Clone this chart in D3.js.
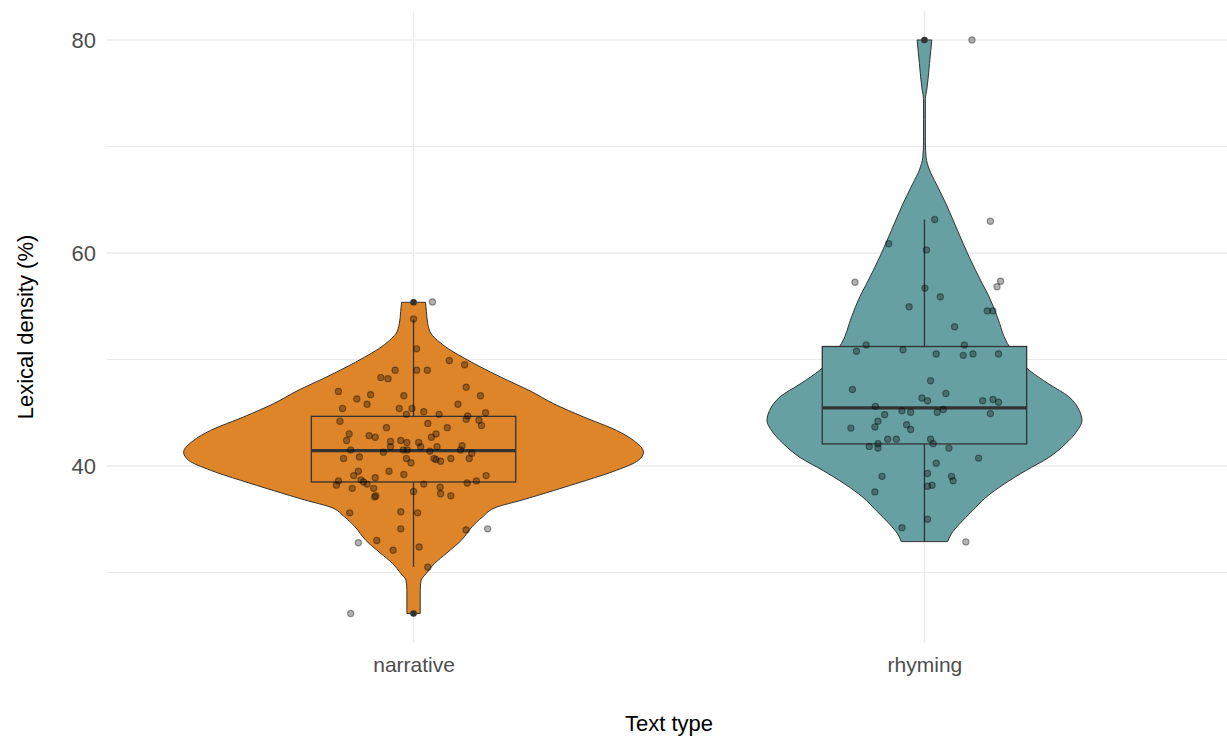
<!DOCTYPE html>
<html>
<head>
<meta charset="utf-8">
<script src="https://cdn.jsdelivr.net/npm/d3@7"></script>
<style>
  html, body { margin: 0; padding: 0; background: #ffffff; }
  svg { display: block; font-family: "Liberation Sans", Arial, sans-serif; }
</style>
</head>
<body>
<svg id="chart" width="1227" height="738"></svg>
<script>
// ---------------- data ----------------
const categories = ["narrative", "rhyming"];
const fillColors = ["#DD8528", "#66A0A2"];

// jittered observations (value, horizontal jitter in category units)
const narrativeValues = [55.4, 53.8, 51.0, 49.9, 49.5, 49.0, 49.0, 49.0, 48.3, 48.2, 47.4, 47.0, 46.6, 46.7, 46.3, 46.6,
  45.8, 45.8, 45.4, 45.4, 45.4, 45.1, 44.85, 44.85, 44.7, 45.0, 44.4, 44.3, 44.2, 44.0, 43.8, 43.6, 43.6, 43.0, 42.85,
  42.7, 43.0, 42.7, 42.4, 42.4, 42.3, 42.2, 42.2, 41.8, 41.8, 41.8, 41.9, 41.5, 41.3, 41.5, 41.5, 41.4, 41.5, 41.2,
  40.7, 40.85, 40.7, 40.3, 40.7, 40.45, 40.7, 40.7, 39.5, 39.5, 39.2, 39.1, 38.7, 38.9, 39.1, 38.6, 38.2, 38.3, 38.5,
  38.3, 38.4, 38.6, 37.9, 37.9, 38.0, 37.6, 37.2, 37.1, 37.4, 37.2, 35.6, 35.7, 35.6, 34.1, 34.0, 34.1, 32.8, 33.0,
  32.1, 32.4, 30.5, 26.15, 40.6];
const narrativeJitter = [0.037, 0.000, 0.006, 0.070, 0.100, 0.006, 0.027, -0.036, -0.064, -0.050, 0.103, -0.147, 0.131,
  -0.084, -0.111, -0.019, -0.091, 0.087, -0.139, -0.028, -0.003, 0.020, -0.014, 0.050, 0.106, 0.141, 0.103, 0.128,
  -0.144, 0.028, 0.133, -0.053, 0.066, -0.126, -0.087, -0.075, 0.044, 0.035, -0.131, -0.025, -0.045, -0.013, 0.010,
  -0.045, 0.014, 0.046, 0.095, -0.123, -0.059, -0.020, -0.012, 0.032, 0.092, 0.114, -0.137, -0.106, -0.014, -0.005,
  0.040, 0.053, 0.073, 0.109, -0.048, -0.108, -0.019, -0.117, -0.103, -0.075, 0.142, -0.147, -0.151, -0.091, -0.098,
  0.020, 0.105, 0.123, -0.120, -0.078, 0.052, 0.000, -0.074, -0.076, 0.053, 0.073, -0.125, -0.025, 0.008, -0.025,
  0.103, 0.145, -0.108, -0.072, -0.040, 0.011, 0.028, -0.123, 0.044];

const rhymingValues = [80.0, 62.98, 63.14, 60.29, 60.87, 57.25, 57.35, 56.83, 56.7, 55.89, 54.95, 54.56, 54.56, 53.07,
  51.36, 51.36, 50.78, 50.91, 50.52, 50.39, 50.52, 50.52, 48.0, 47.18, 46.8, 46.38, 46.12, 46.12, 46.25, 45.99, 45.6,
  45.18, 45.05, 45.05, 45.31, 44.82, 44.92, 44.21, 43.88, 43.66, 43.56, 43.43, 42.52, 42.52, 42.52, 42.1, 42.1, 41.84,
  41.68, 41.68, 40.74, 40.26, 39.29, 39.03, 39.03, 38.61, 38.19, 38.1, 37.57, 35.0, 34.21, 32.88];
const rhymingJitter = [0.093, 0.129, 0.020, 0.004, -0.070, -0.136, 0.149, 0.142, 0.001, 0.031, -0.030, 0.123, 0.134,
  0.059, -0.114, 0.078, -0.133, -0.042, 0.023, 0.076, 0.095, 0.145, 0.012, -0.141, 0.042, -0.005, 0.006, 0.114, 0.134,
  0.145, -0.096, -0.044, -0.027, 0.025, 0.037, -0.078, 0.129, -0.091, -0.035, -0.097, -0.144, -0.027, -0.072, -0.055,
  0.012, 0.017, -0.091, -0.108, -0.091, 0.048, 0.106, 0.023, 0.006, -0.083, 0.053, 0.056, 0.015, 0.006, -0.097, 0.006,
  -0.044, 0.081];

// boxplot statistics per category
const boxQ1 = [38.5, 42.07];
const boxMedian = [41.45, 45.45];
const boxQ3 = [44.66, 51.22];
const whiskerLow = [30.53, 32.9];
const whiskerHigh = [53.75, 63.13];
const narrativeOutliers = [55.37, 26.15];
const rhymingOutliers = [80.0];

// violin density profiles (value, relative width; 1 = widest violin)
const narrativeViolinV = [26.15, 28.34, 29.28, 29.9, 30.84, 31.8, 33.03, 34.3, 35.2, 36.16, 36.78, 37.7, 38.66, 39.6,
  40.53, 41.3, 42.4, 43.34, 44.6, 45.84, 47.1, 48.34, 49.28, 50.22, 51.0, 51.78, 52.4, 53.34, 54.5, 55.37];
const narrativeViolinW = [0.029, 0.029, 0.033, 0.055, 0.091, 0.143, 0.208, 0.255, 0.299, 0.364, 0.468, 0.610, 0.753,
  0.883, 0.978, 1.0, 0.957, 0.883, 0.740, 0.610, 0.502, 0.380, 0.293, 0.213, 0.152, 0.105, 0.077, 0.062, 0.056, 0.052];

const rhymingViolinV = [32.9, 33.6, 34.55, 35.8, 37.05, 38.3, 39.56, 40.8, 42.07, 43.3, 44.26, 45.2, 46.5, 47.7, 49.0,
  51.5, 54.0, 55.9, 57.1, 59.6, 62.1, 64.6, 66.5, 67.8, 69.0, 70.5, 72.5, 74.5, 75.3, 77.8, 80.0];
const rhymingViolinW = [0.101, 0.116, 0.152, 0.209, 0.267, 0.346, 0.440, 0.541, 0.613, 0.664, 0.685, 0.674, 0.628,
  0.541, 0.455, 0.361, 0.317, 0.281, 0.252, 0.195, 0.144, 0.094, 0.051, 0.022, 0.007, 0.004, 0.004, 0.004, 0.010,
  0.022, 0.032];

const yMajorTicks = [40, 60, 80];
const yMinorTicks = [30, 50, 70];
const xTitle = "Text type";
const yTitle = "Lexical density (%)";

// ---------------- layout ----------------
const svg = d3.select("#chart");
const panel = { left: 107, right: 1231, top: 11.2, bottom: 642.8 };

const x = d3.scalePoint().domain(categories).range([panel.left, panel.right]).padding(0.6);
const step = x.step();
const y = d3.scaleLinear().domain([23.4, 82.7]).range([panel.bottom, panel.top]);

const gridColor = "#EBEBEB";
const lineColor = "#333333";

// grid
const grid = svg.append("g");
grid.selectAll("line.minor").data(yMinorTicks).join("line")
  .attr("x1", panel.left).attr("x2", panel.right)
  .attr("y1", d => y(d)).attr("y2", d => y(d))
  .attr("stroke", gridColor).attr("stroke-width", 1.1);
grid.selectAll("line.major").data(yMajorTicks).join("line")
  .attr("x1", panel.left).attr("x2", panel.right)
  .attr("y1", d => y(d)).attr("y2", d => y(d))
  .attr("stroke", gridColor).attr("stroke-width", 1.4);
grid.selectAll("line.vert").data(categories).join("line")
  .attr("x1", d => x(d)).attr("x2", d => x(d))
  .attr("y1", panel.top).attr("y2", panel.bottom)
  .attr("stroke", gridColor).attr("stroke-width", 1.4);

// violins
const violinHalf = 0.45 * step;
const profiles = [
  narrativeViolinV.map((v, i) => ({ v, w: narrativeViolinW[i] })),
  rhymingViolinV.map((v, i) => ({ v, w: rhymingViolinW[i] }))
];
categories.forEach((c, i) => {
  const cx = x(c);
  const area = d3.area()
    .y(d => y(d.v))
    .x0(d => cx - d.w * violinHalf)
    .x1(d => cx + d.w * violinHalf)
    .curve(d3.curveMonotoneY);
  svg.append("path")
    .attr("d", area(profiles[i]))
    .attr("fill", fillColors[i])
    .attr("stroke", lineColor)
    .attr("stroke-width", 1);
});

// boxplots
const boxHalf = 0.2 * step;
categories.forEach((c, i) => {
  const cx = x(c);
  const g = svg.append("g");
  g.append("line").attr("x1", cx).attr("x2", cx)
    .attr("y1", y(boxQ3[i])).attr("y2", y(whiskerHigh[i]))
    .attr("stroke", lineColor).attr("stroke-width", 1.3);
  g.append("line").attr("x1", cx).attr("x2", cx)
    .attr("y1", y(boxQ1[i])).attr("y2", y(whiskerLow[i]))
    .attr("stroke", lineColor).attr("stroke-width", 1.3);
  g.append("rect")
    .attr("x", cx - boxHalf).attr("width", 2 * boxHalf)
    .attr("y", y(boxQ3[i])).attr("height", y(boxQ1[i]) - y(boxQ3[i]))
    .attr("fill", fillColors[i]).attr("stroke", lineColor).attr("stroke-width", 1.3);
  g.append("line")
    .attr("x1", cx - boxHalf).attr("x2", cx + boxHalf)
    .attr("y1", y(boxMedian[i])).attr("y2", y(boxMedian[i]))
    .attr("stroke", lineColor).attr("stroke-width", 3.3);
});

// boxplot outliers
const outlierSets = [narrativeOutliers, rhymingOutliers];
categories.forEach((c, i) => {
  svg.append("g").selectAll("circle").data(outlierSets[i]).join("circle")
    .attr("cx", x(c)).attr("cy", d => y(d)).attr("r", 3.3)
    .attr("fill", lineColor);
});

// jittered points
const pointSets = [
  narrativeValues.map((v, i) => ({ v, j: narrativeJitter[i] })),
  rhymingValues.map((v, i) => ({ v, j: rhymingJitter[i] }))
];
categories.forEach((c, i) => {
  svg.append("g").selectAll("circle").data(pointSets[i]).join("circle")
    .attr("cx", d => x(c) + d.j * step)
    .attr("cy", d => y(d.v))
    .attr("r", 3.1)
    .attr("fill", "rgba(0,0,0,0.3)")
    .attr("stroke", "rgba(0,0,0,0.38)")
    .attr("stroke-width", 1.2);
});

// axes
const yAxis = d3.axisLeft(y).tickValues(yMajorTicks).tickSize(0).tickPadding(11);
const yg = svg.append("g").attr("transform", `translate(${panel.left},0)`).call(yAxis);
yg.select(".domain").remove();
yg.selectAll("text").attr("font-size", 22).attr("fill", "#4D4D4D")
  .attr("font-family", "Liberation Sans, Arial, sans-serif");

const xAxis = d3.axisBottom(x).tickSize(0).tickPadding(14);
const xg = svg.append("g").attr("transform", `translate(0,${panel.bottom})`).call(xAxis);
xg.select(".domain").remove();
xg.selectAll("text").attr("font-size", 21).attr("fill", "#4D4D4D")
  .attr("font-family", "Liberation Sans, Arial, sans-serif");

// titles
svg.append("text")
  .attr("x", (panel.left + panel.right) / 2).attr("y", 730.5)
  .attr("text-anchor", "middle").attr("font-size", 22).attr("fill", "#000")
  .text(xTitle);
svg.append("text")
  .attr("transform", `translate(32.5,${(panel.top + panel.bottom) / 2}) rotate(-90)`)
  .attr("text-anchor", "middle").attr("font-size", 22).attr("fill", "#000")
  .text(yTitle);
</script>
</body>
</html>
